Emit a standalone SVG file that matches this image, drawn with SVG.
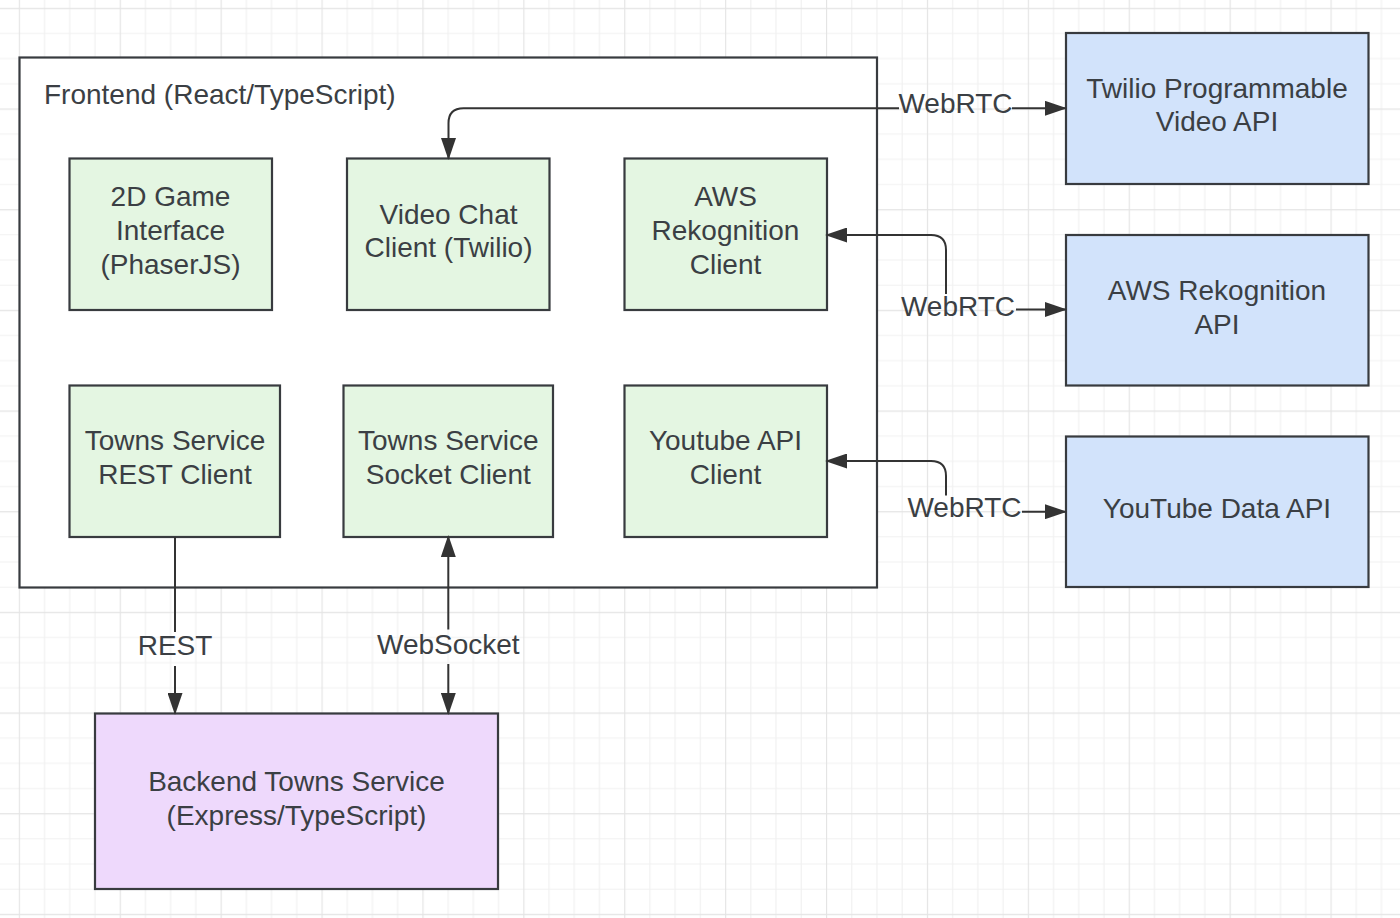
<svg xmlns="http://www.w3.org/2000/svg" width="1400" height="918" viewBox="0 0 1400 918">
  <style>
    .box { stroke: #383b3f; stroke-width: 2.2; }
    .frame { fill: #ffffff; }
    .green { fill: #e4f6e2; }
    .blue { fill: #d2e3fb; }
    .purple { fill: #eed9fc; }
    .t { font-family: "Liberation Sans", Arial, sans-serif; font-size: 28px; fill: #3b3f44; text-anchor: middle; }
    .title { text-anchor: start; }
    .edge { fill: none; stroke: #333333; stroke-width: 2; }
  </style>
  <defs>
    <pattern id="grid" patternUnits="userSpaceOnUse" x="18.8" y="7.8" width="100.9" height="100.67">
      <path d="M25.725,0 V100.67 M50.95,0 V100.67 M76.175,0 V100.67 M0,25.67 H100.9 M0,50.83 H100.9 M0,76 H100.9" stroke="#f1f1f1" stroke-width="1.2" fill="none"/>
      <path d="M0.5,0 V100.67 M0,0.5 H100.9" stroke="#e4e4e4" stroke-width="1.3" fill="none"/>
    </pattern>
    <marker id="arrow" viewBox="0 0 22 15" refX="20" refY="7.5" markerWidth="22" markerHeight="15" markerUnits="userSpaceOnUse" orient="auto-start-reverse">
      <path d="M0,0 L22,7.5 L0,15 z" fill="#333333"/>
    </marker>
  </defs>

  <rect x="0" y="0" width="1400" height="918" fill="#ffffff"/>
  <rect x="0" y="0" width="1400" height="918" fill="url(#grid)"/>

  <g id="frontend">
    <rect class="box frame" x="19.5" y="57.5" width="857.5" height="530"/>
    <text class="t title" x="44" y="104">Frontend (React/TypeScript)</text>
  </g>

  <g id="game-interface">
    <rect class="box green" x="69.5" y="158.5" width="202.5" height="151.5"/>
    <text class="t" x="170.5" y="206">2D Game</text>
    <text class="t" x="170.5" y="240">Interface</text>
    <text class="t" x="170.5" y="274">(PhaserJS)</text>
  </g>

  <g id="video-chat-client">
    <rect class="box green" x="347" y="158.5" width="202.5" height="151.5"/>
    <text class="t" x="448.5" y="223.5">Video Chat</text>
    <text class="t" x="448.5" y="257">Client (Twilio)</text>
  </g>

  <g id="aws-client">
    <rect class="box green" x="624.5" y="158.5" width="202.5" height="151.5"/>
    <text class="t" x="725.5" y="206">AWS</text>
    <text class="t" x="725.5" y="240">Rekognition</text>
    <text class="t" x="725.5" y="274">Client</text>
  </g>

  <g id="rest-client">
    <rect class="box green" x="69.5" y="385.5" width="210.5" height="151.5"/>
    <text class="t" x="175" y="450">Towns Service</text>
    <text class="t" x="175" y="484">REST Client</text>
  </g>

  <g id="socket-client">
    <rect class="box green" x="343.5" y="385.5" width="209.5" height="151.5"/>
    <text class="t" x="448.3" y="450">Towns Service</text>
    <text class="t" x="448.3" y="484">Socket Client</text>
  </g>

  <g id="youtube-client">
    <rect class="box green" x="624.5" y="385.5" width="202.5" height="151.5"/>
    <text class="t" x="725.5" y="449.5">Youtube API</text>
    <text class="t" x="725.5" y="483.5">Client</text>
  </g>

  <g id="twilio-api">
    <rect class="box blue" x="1066" y="33" width="302.5" height="151"/>
    <text class="t" x="1217" y="97.5">Twilio Programmable</text>
    <text class="t" x="1217" y="131">Video API</text>
  </g>

  <g id="aws-api">
    <rect class="box blue" x="1066" y="235" width="302.5" height="150.5"/>
    <text class="t" x="1217" y="300">AWS Rekognition</text>
    <text class="t" x="1217" y="333.5">API</text>
  </g>

  <g id="youtube-api">
    <rect class="box blue" x="1066" y="436.5" width="302.5" height="150.5"/>
    <text class="t" x="1217" y="517.5">YouTube Data API</text>
  </g>

  <g id="backend">
    <rect class="box purple" x="95" y="713.5" width="403" height="175.5"/>
    <text class="t" x="296.5" y="790.5">Backend Towns Service</text>
    <text class="t" x="296.5" y="824.5">(Express/TypeScript)</text>
  </g>

  <g id="connectors">
    <path class="edge" marker-start="url(#arrow)" d="M448.5,158 V123.3 Q448.5,108.3 463.5,108.3 H899"/>
    <path class="edge" marker-end="url(#arrow)" d="M1012,108.3 H1065"/>

    <path class="edge" marker-start="url(#arrow)" d="M827,235 H931 Q946,235 946,250 V294"/>
    <path class="edge" marker-end="url(#arrow)" d="M1016,309.5 H1065"/>

    <path class="edge" marker-start="url(#arrow)" d="M827,461 H931 Q946,461 946,476 V495.5"/>
    <path class="edge" marker-end="url(#arrow)" d="M1022,511.7 H1065"/>

    <path class="edge" d="M175,537 V632"/>
    <path class="edge" marker-end="url(#arrow)" d="M175,666 V713"/>

    <path class="edge" marker-start="url(#arrow)" d="M448.3,537 V629.5"/>
    <path class="edge" marker-end="url(#arrow)" d="M448.3,664 V713"/>

    <text class="t" x="955.5" y="113.3">WebRTC</text>
    <text class="t" x="958" y="316">WebRTC</text>
    <text class="t" x="964.5" y="517.3">WebRTC</text>
    <text class="t" x="175" y="655">REST</text>
    <text class="t" x="448.3" y="654">WebSocket</text>
  </g>
</svg>
